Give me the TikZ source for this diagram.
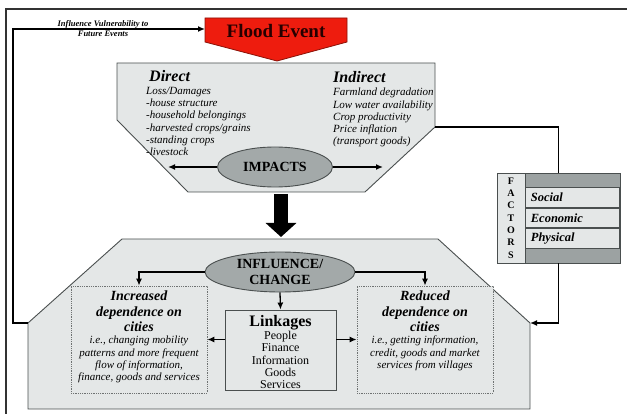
\documentclass[tikz,border=0pt]{standalone}
\usepackage{fontspec}
\setmainfont{Liberation Serif}
\usetikzlibrary{positioning,arrows.meta,shapes.geometric}

\definecolor{panelgray}{HTML}{E4E7E7}
\definecolor{ovalgray}{HTML}{A3A9A9}
\definecolor{edgegray}{HTML}{4A4F4F}
\definecolor{factorgray}{HTML}{9CA2A2}
\definecolor{floodred}{HTML}{EE1C0E}
\definecolor{flooddark}{HTML}{8A1208}

\tikzset{
  panel/.style={draw=edgegray, fill=panelgray, line width=0.9pt},
  oval/.style={ellipse, draw=edgegray, fill=ovalgray, line width=0.9pt, inner sep=1pt,
    font=\bfseries\fontsize{14}{15.5}\selectfont, align=center},
  link/.style={draw=black, line width=1.3pt},
  flow/.style={link, -{Latex[length=7pt,width=6pt]}},
  bigdown/.style={draw=black, line width=14pt, -{Triangle[length=14pt,width=30pt]}},
  headtext/.style={inner sep=0pt, font=\bfseries\itshape\fontsize{16}{18}\selectfont},
  listtext/.style={inner sep=0pt, align=left, font=\itshape\fontsize{11}{12.2}\selectfont},
  dotbox/.style={draw=edgegray!80, fill=panelgray, densely dotted, line width=0.8pt},
  linkbox/.style={draw=edgegray, fill=panelgray, line width=0.9pt},
  boxhead/.style={inner sep=0pt, align=center, font=\bfseries\itshape\fontsize{14}{15.5}\selectfont},
  boxbody/.style={inner sep=0pt, align=center, font=\itshape\fontsize{11}{12.4}\selectfont},
  factorbox/.style={draw=edgegray, fill=factorgray, line width=0.9pt},
  lettercol/.style={draw=edgegray, fill=panelgray, line width=0.9pt, align=center,
    font=\bfseries\fontsize{10}{12.3}\selectfont},
  factorrow/.style={draw=edgegray, fill=panelgray, line width=0.9pt, inner xsep=5pt,
    text width=84pt, minimum height=19.5pt, align=left,
    font=\bfseries\itshape\fontsize{12.5}{14}\selectfont},
}

\begin{document}
\begin{tikzpicture}[x=1pt, y=-1pt]
  \useasboundingbox (0,0) rectangle (627,414);

  % frame
  \draw[draw=black!80, line width=1.4pt] (6,414) -- (6,9) -- (627,9);

  % Flood event
  \draw[draw=flooddark, fill=floodred, line width=0.8pt]
    (205,18) -- (347,18) -- (347,42) -- (277,61) -- (205,42) -- cycle;
  \node[text=black!85!red, font=\bfseries\fontsize{19}{21}\selectfont] (flood) at (276,31) {Flood Event};
  \coordinate (flood-w) at (205,29);

  % Impacts panel
  \draw[panel] (117,63) -- (435,63) -- (435,127) -- (365,192) -- (188,192) -- (117,120) -- cycle;
  \coordinate (imp-e) at (435,127);

  \node[headtext, anchor=base west] (direct) at (149,82) {Direct};
  \node[listtext, anchor=north west] (damages) at (146,87)
    {Loss/Damages\\-house structure\\-household belongings\\-harvested crops/grains\\-standing crops\\-livestock};
  \node[headtext, anchor=base west] (indirect) at (333,83) {Indirect};
  \node[listtext, anchor=north west] (effects) at (333,88)
    {Farmland degradation\\Low water availability\\Crop productivity\\Price inflation\\(transport goods)};

  \node[oval, minimum width=115pt, minimum height=40pt] (impacts) at (275,167) {IMPACTS};
  \coordinate (direct-end) at (168,167);
  \coordinate (indirect-end) at (383,167);

  % Influence panel
  \draw[panel] (122,239) -- (438,239) -- (530,323) -- (530,409) -- (28,409) -- (28,323) -- cycle;
  \coordinate (low-e) at (530,323);
  \coordinate (low-w) at (28,323);
  \coordinate (impacts-out) at (281,194);
  \coordinate (change-in) at (281,237);

  \node[oval, minimum width=150pt, minimum height=40pt] (influence) at (280,272) {INFLUENCE/\\CHANGE};

  \node[dotbox, minimum width=136pt, minimum height=107pt] (increased) at (139,339.5) {};
  \node[boxhead, below=5pt of increased.north] (increased-head) {Increased\\dependence on\\cities};
  \node[boxbody, below=4pt of increased-head] (increased-body)
    {i.e., changing mobility\\patterns and more frequent\\flow of information,\\finance, goods and services};

  \node[dotbox, minimum width=136pt, minimum height=107pt] (reduced) at (425,339.5) {};
  \node[boxhead, below=5pt of reduced.north] (reduced-head) {Reduced\\dependence on\\cities};
  \node[boxbody, below=4pt of reduced-head] (reduced-body)
    {i.e., getting information,\\credit, goods and market\\services from villages};

  \node[linkbox, minimum width=111pt, minimum height=80pt] (linkages) at (280.5,350) {};
  \node[inner sep=0pt, font=\bfseries\fontsize{16}{18}\selectfont, below=6pt of linkages.north] (linkages-head) {Linkages};
  \node[inner sep=0pt, align=center, font=\fontsize{12}{12.3}\selectfont, below=0.5pt of linkages-head] (linkages-list)
    {People\\Finance\\Information\\Goods\\Services};

  % Factors
  \node[factorbox, minimum width=123pt, minimum height=90pt] (factors) at (558.5,218) {};
  \node[lettercol, minimum width=28pt, minimum height=90pt, anchor=west] (letters) at (factors.west) {F\\A\\C\\T\\O\\R\\S};
  \node[factorrow, anchor=west] (economic) at (letters.east) {Economic};
  \node[factorrow, above=0pt of economic] (social) {Social};
  \node[factorrow, below=0pt of economic] (physical) {Physical};

  \node[align=center, font=\bfseries\itshape\fontsize{8.5}{10}\selectfont] (feedback) at (103,29)
    {Influence Vulnerability to\\Future Events};

  % Connect the nodes
  \draw[flow] (impacts) -- (direct-end);
  \draw[flow] (impacts) -- (indirect-end);
  \draw[bigdown] (impacts-out) -- (change-in);
  \draw[flow] (influence.west) -| (increased.north);
  \draw[flow] (influence.east) -| (reduced.north);
  \draw[flow] (influence.south) -- (linkages.north);
  \draw[flow] (linkages.west |- increased.east) -- (increased.east);
  \draw[flow] (linkages.east |- reduced.west) -- (reduced.west);
  \draw[link] (imp-e) -| (factors.north);
  \draw[flow] (factors.south) |- (low-e);
  \draw[flow] (low-w) -- ++(-15,0) |- (flood-w);

\end{tikzpicture}
\end{document}
